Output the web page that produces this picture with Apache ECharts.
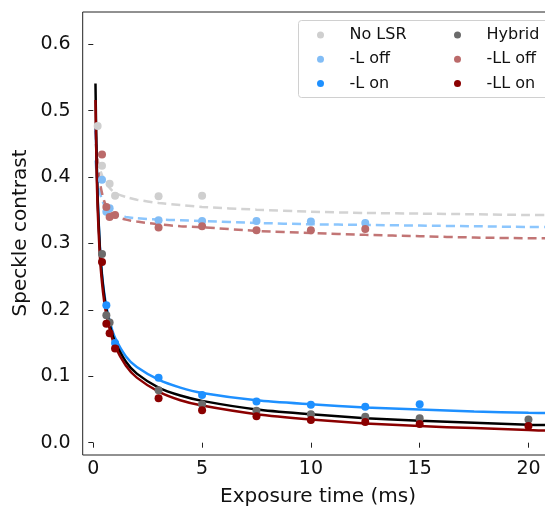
<!DOCTYPE html>
<html lang="en">
<head>
<meta charset="utf-8">
<title>Speckle contrast vs exposure time</title>
<script src="https://cdn.jsdelivr.net/npm/echarts@6/dist/echarts.min.js"></script>
<style>
  html, body { margin: 0; padding: 0; background: #fff; }
  #chart { width: 545px; height: 514px; }
</style>
</head>
<body>
<div id="chart"></div>
<script>
// measured exposure times (ms)
var times = [0.2, 0.4, 0.6, 0.75, 1, 3, 5, 7.5, 10, 12.5, 15, 20];

// measured speckle contrast per setting (null = no point)
var noLsr   = [0.477, 0.417, null, 0.390, 0.372, 0.371, 0.372, null, null, null, null, null];
var lOff    = [null, 0.396, 0.348, 0.353, null, 0.335, 0.334, 0.334, 0.333, 0.331, null, null];
var lOn     = [null, null, 0.207, null, 0.150, 0.098, 0.072, 0.062, 0.057, 0.054, 0.058, null];
var hybrid  = [null, 0.284, 0.192, 0.181, null, 0.079, 0.058, 0.048, 0.043, 0.039, 0.037, 0.035];
var llOff   = [null, 0.434, 0.355, 0.340, 0.343, 0.324, 0.326, 0.320, 0.320, 0.322, null, null];
var llOn    = [null, 0.272, 0.179, 0.165, 0.142, 0.067, 0.049, 0.040, 0.034, 0.031, 0.028, 0.025];

// fitted curves
var fitT      = [0.1, 0.15, 0.2, 0.3, 0.4, 0.5, 0.6, 0.8, 1, 1.5, 2, 3, 4, 5, 7.5, 10, 12.5, 15, 17.5, 20, 21];
var fitNoLsr  = [0.450, 0.437, 0.427, 0.413, 0.403, 0.396, 0.390, 0.382, 0.376, 0.370, 0.366, 0.361, 0.358, 0.355, 0.351, 0.348, 0.346, 0.345, 0.344, 0.343, 0.343];
var fitLOff   = [0.425, 0.407, 0.395, 0.377, 0.366, 0.358, 0.352, 0.346, 0.343, 0.340, 0.338, 0.336, 0.335, 0.334, 0.331, 0.329, 0.328, 0.327, 0.326, 0.325, 0.325];
var fitLOn    = [0.480, 0.430, 0.370, 0.297, 0.254, 0.226, 0.205, 0.177, 0.158, 0.130, 0.114, 0.095, 0.083, 0.075, 0.064, 0.058, 0.053, 0.050, 0.047, 0.045, 0.0445];
var fitHybrid = [0.541, 0.432, 0.367, 0.294, 0.251, 0.222, 0.201, 0.172, 0.152, 0.122, 0.104, 0.083, 0.071, 0.063, 0.050, 0.043, 0.037, 0.033, 0.030, 0.027, 0.0265];
var fitLLOff  = [0.470, 0.442, 0.421, 0.393, 0.376, 0.364, 0.356, 0.346, 0.341, 0.336, 0.333, 0.329, 0.326, 0.3245, 0.319, 0.316, 0.313, 0.311, 0.309, 0.308, 0.308];
var fitLLOn   = [0.516, 0.414, 0.352, 0.282, 0.241, 0.213, 0.193, 0.165, 0.145, 0.116, 0.098, 0.077, 0.064, 0.056, 0.043, 0.035, 0.029, 0.025, 0.022, 0.019, 0.018];

function pairs(xs, ys) {
    var out = [];
    for (var i = 0; i < xs.length; i++) {
        if (ys[i] != null) out.push([xs[i], ys[i]]);
    }
    return out;
}

var font = 'DejaVu Sans';

function scatter(name, ys, color) {
    return {
        name: name, type: 'scatter', data: pairs(times, ys),
        symbol: 'circle', symbolSize: 8, z: 5,
        itemStyle: { color: color, opacity: 1 }
    };
}
function fit(ys, color, dashed) {
    return {
        type: 'line', data: pairs(fitT, ys), showSymbol: false, silent: true,
        smooth: 0.25, z: 3,
        lineStyle: { color: color, width: 2.5, type: dashed ? [9, 5] : 'solid' }
    };
}

var chart = echarts.init(document.getElementById('chart'));
chart.setOption({
    animation: false,
    grid: { left: 93.3, right: -5, top: 44.3, bottom: 71.3 },
    xAxis: {
        type: 'value', min: 0, max: 20.76, interval: 5, offset: 12.3,
        axisLine: { show: false },
        axisTick: { length: 5, lineStyle: { color: '#222', width: 1 } },
        axisLabel: { showMaxLabel: false, margin: 5, fontFamily: font, fontSize: 19, color: '#111' },
        splitLine: { show: false }
    },
    yAxis: {
        type: 'value', min: 0, max: 0.6, interval: 0.1, offset: 10.6,
        axisLine: { show: false },
        axisTick: { length: 5, lineStyle: { color: '#222', width: 1 } },
        axisLabel: { margin: 12, fontFamily: font, fontSize: 19, color: '#111',
            formatter: function (v) { return v.toFixed(1); } },
        splitLine: { show: false }
    },
    legend: [{
        orient: 'vertical', left: 312, top: 22, itemGap: 8.3,
        itemWidth: 48, itemHeight: 7, icon: 'circle',
        textStyle: { fontFamily: font, fontSize: 16, color: '#111' },
        data: ['No LSR', '-L off', '-L on']
    }, {
        orient: 'vertical', left: 449, top: 22, itemGap: 8.3,
        itemWidth: 48, itemHeight: 7, icon: 'circle',
        textStyle: { fontFamily: font, fontSize: 16, color: '#111' },
        data: ['Hybrid', '-LL off', '-LL on']
    }],
    graphic: [
        { type: 'rect', left: 298, top: 20, z: 1,
          shape: { width: 260, height: 77, r: 3 },
          style: { fill: 'rgba(255,255,255,0.8)', stroke: '#d0d0d0', lineWidth: 1 } },
        { type: 'line', z: 10, shape: { x1: 82.7, y1: 12, x2: 82.7, y2: 455 },
          style: { stroke: '#222', lineWidth: 1 } },
        { type: 'line', z: 10, shape: { x1: 82.7, y1: 455, x2: 545, y2: 455 },
          style: { stroke: '#222', lineWidth: 1 } },
        { type: 'line', z: 10, shape: { x1: 82.7, y1: 12, x2: 545, y2: 12 },
          style: { stroke: '#222', lineWidth: 1 } },
        { type: 'text', x: 318, y: 497, z: 10,
          style: { text: 'Exposure time (ms)', font: '20px "DejaVu Sans"', fill: '#111',
                   textAlign: 'center', textVerticalAlign: 'middle' } },
        { type: 'text', x: 21, y: 233, rotation: Math.PI / 2, z: 10,
          style: { text: 'Speckle contrast', font: '20px "DejaVu Sans"', fill: '#111',
                   textAlign: 'center', textVerticalAlign: 'middle' } }
    ],
    series: [
        fit(fitNoLsr, '#d3d3d3', true),
        fit(fitLOff, '#8cc6fd', true),
        fit(fitLLOff, '#c27575', true),
        fit(fitLOn, '#1e90ff', false),
        fit(fitHybrid, '#000000', false),
        fit(fitLLOn, '#8b0000', false),
        scatter('No LSR', noLsr, '#cfcfcf'),
        scatter('-L off', lOff, '#82bdf6'),
        scatter('-L on', lOn, '#1e90ff'),
        scatter('Hybrid', hybrid, '#6b6b6b'),
        scatter('-LL off', llOff, '#bb6a6a'),
        scatter('-LL on', llOn, '#8b0000')
    ]
});
</script>
</body>
</html>
